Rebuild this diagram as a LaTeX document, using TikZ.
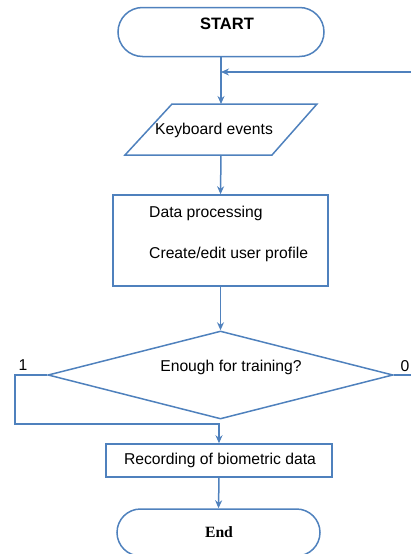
\documentclass[tikz,border=0pt]{standalone}
\usepackage{fontspec}
\setmainfont{Liberation Sans}
\newfontfamily\endfont{Liberation Serif}
\usetikzlibrary{shapes.geometric,shapes.misc,arrows.meta}
\definecolor{flowblue}{RGB}{79,129,189}

\begin{document}
\begin{tikzpicture}[x=1pt,y=-1pt,
        every node/.style={font=\fontsize{15.7}{18}\selectfont},
        line/.style={draw=flowblue, line width=1.5pt},
        arrow/.style={line, -{Stealth[length=8pt,width=7pt]}},
        txt/.style={inner sep=0pt},
        term/.style={line, rounded rectangle, inner sep=0pt},
        boxnode/.style={line, rectangle, inner sep=0pt}]
        \useasboundingbox (0,0) rectangle (411,554);

        % Draw the terminators, input, process boxes and decision
        \node[term, minimum width=206pt, minimum height=49pt] (start) at (221,32) {};
        \node[txt, font=\fontsize{16.5}{18}\selectfont\bfseries] (starttxt) at (227,24) {START};

        % input parallelogram
        \coordinate (kbdtop) at (221,104);
        \coordinate (kbdbot) at (221,155);
        \draw[line] (172,104) -- (317,104) -- (272,155) -- (125,155) -- cycle;
        \node[txt] (kbdtxt) at (214,130) {Keyboard events};

        \node[boxnode, minimum width=215pt, minimum height=91pt] (data) at (220.5,240.5) {};
        \node[txt, anchor=west] (dataln1) at (149,213) {Data processing};
        \node[txt, anchor=west] (dataln2) at (149,254) {Create/edit user profile};

        \node[line, diamond, aspect=3.9, minimum width=345pt, minimum height=88pt,
              inner sep=0pt] (dec) at (220.5,375) {};
        \node[txt] (dectxt) at (231,367) {Enough for training?};
        \node[txt] (lblone) at (23,365) {1};
        \node[txt] (lblzero) at (405,366) {0};

        \node[boxnode, minimum width=226pt, minimum height=33pt] (rec) at (219,460.5) {};
        \node[txt] (rectxt) at (220,460) {Recording of biometric data};

        \node[term, minimum width=203pt, minimum height=47pt] (fin) at (218.5,532.5) {};
        \node[txt, font=\fontsize{15.7}{18}\selectfont\endfont\bfseries] (fintxt) at (219,532) {End};

        % Connectors
        \coordinate (back) at (411,72);
        \coordinate (yesturn) at (15,424);
        \coordinate (noexit) at (411,375);
        \draw[arrow] (start.south) -- (kbdtop);
        \draw[arrow] (back) -- (back -| start.south);
        \draw[arrow] (kbdbot) -- (data.north);
        \draw[arrow] (data.south) -- (dec.north);
        \draw[arrow] (dec.west) -| (yesturn) -| (rec.north);
        \draw[line] (dec.east) -- (noexit);
        \draw[arrow] (rec.south) -- (fin.north);
    \end{tikzpicture}
\end{document}
